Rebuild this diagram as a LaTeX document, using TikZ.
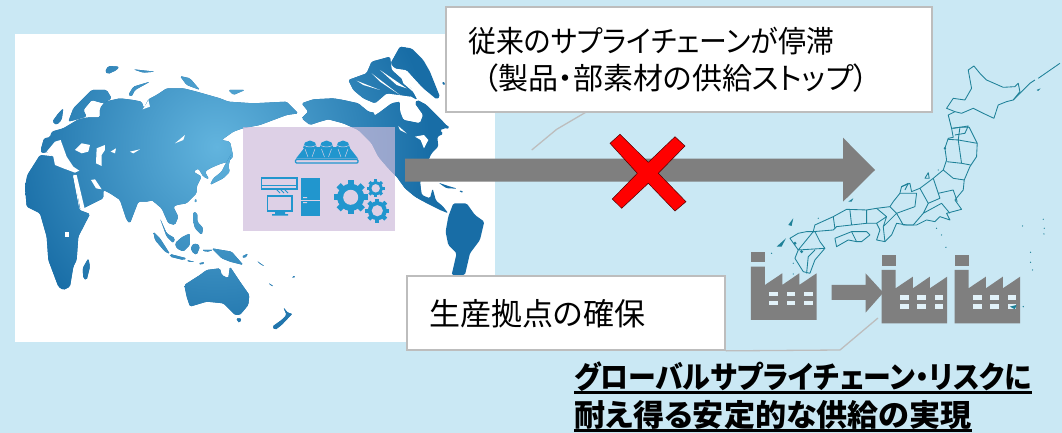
\documentclass[tikz,border=0pt]{standalone}
\usepackage{fontspec}
\setmainfont{Noto Sans CJK JP}[RawFeature=+palt]
\definecolor{sky}{HTML}{CAE8F4}
\definecolor{mapdark}{HTML}{186DA6}
\definecolor{maplight}{HTML}{62B4DE}
\definecolor{icon}{HTML}{2196CE}
\definecolor{facgray}{HTML}{7F7F7F}
\definecolor{boxline}{HTML}{BDBDBD}
\definecolor{panel}{HTML}{CEBBDB}
\definecolor{panelflat}{HTML}{DDD0E5}
\definecolor{jline}{HTML}{1E8198}
\newcommand{\thickul}[1]{\setbox0=\hbox{#1}\rlap{\rule[-6pt]{\wd0}{2.6pt}}\box0}
\newcommand{\landfill}[2]{\begin{scope}\clip[shift={#1},rounded corners=1.5pt] #2;
    \fill[mapdark] (-100,-100) rectangle (1600,1200);
    \shade[inner color=maplight,outer color=mapdark] (650,440) circle (640);\end{scope}}
\tikzset{
  callbox/.style={draw=boxline,line width=1.7pt,fill=white,inner sep=0},
  calltail/.style={draw=boxline,line width=1.3pt},
  jptext/.style={inner sep=0,anchor=west,text=black,font=\fontsize{30}{30}\selectfont},
  boldtext/.style={inner sep=0,anchor=base west,text=black,font=\fontsize{30.5}{30}\selectfont\bfseries},
  pref/.style={draw=jline,line width=0.85pt,line join=round},
  factorybody/.style={fill=facgray},
  win/.style={fill=sky!55!white},
  seas/.style={fill=white}
}
\begin{document}
\begin{tikzpicture}[x=1pt,y=-1pt]
\useasboundingbox (0,0) rectangle (1062,433);
\fill[sky] (0,0) rectangle (1062,433);
\fill[white] (15,34) rectangle (495,342);
% world map
\begin{scope}[x=0.3333pt,y=-0.3333pt]
  % Eurasia, Africa and neighbours
  \landfill{(60,180)}{(62,270)--(72,235)--(90,232)--(95,215)--(130,205)--(175,178)--(205,172)--(240,172)--(240,145)--(255,125)--(300,115)--(340,120)--(365,125)--(372,145)--(385,118)--(410,105)--(440,85)--(490,85)--(530,95)--(600,115)--(625,125)--(700,130)--(800,125)--(835,160)--(800,165)--(760,180)--(720,195)--(668,205)--(640,215)--(605,240)--(630,245)--(640,290)--(625,305)--(600,312)--(570,325)--(555,335)--(567,358)--(550,350)--(535,325)--(520,335)--(545,350)--(530,380)--(530,400)--(500,430)--(470,435)--(460,440)--(475,470)--(465,495)--(445,490)--(425,445)--(395,420)--(385,425)--(355,425)--(330,490)--(320,480)--(300,420)--(270,400)--(250,390)--(250,415)--(180,450)--(165,345)--(140,330)--(100,290)--(85,275)--(65,280)--cycle}
  \landfill{(60,180)}{(15,380)--(22,345)--(60,285)--(105,290)--(110,315)--(175,340)--(158,345)--(178,450)--(210,462)--(175,530)--(170,600)--(160,620)--(150,680)--(130,690)--(115,680)--(85,600)--(80,530)--(60,460)--(20,440)--cycle}
  \landfill{(60,180)}{(145,185)--(160,145)--(215,90)--(260,90)--(275,115)--(250,130)--(215,120)--(190,150)--(200,170)--(165,180)--cycle}
  \landfill{(60,180)}{(97,185)--(115,160)--(130,145)--(125,180)--(110,195)--cycle}
  \landfill{(60,180)}{(255,35)--(265,18)--(298,20)--(290,30)--(265,42)--cycle}
  \landfill{(60,180)}{(340,28)--(405,35)--(370,38)--cycle}
  \landfill{(60,180)}{(325,105)--(340,80)--(390,65)--(345,90)--(335,110)--cycle}
  \landfill{(60,180)}{(480,48)--(510,55)--(540,90)--(500,75)--cycle}
  \landfill{(60,180)}{(625,90)--(675,90)--(640,105)--cycle}
  \landfill{(60,180)}{(188,625)--(205,595)--(210,620)--(200,660)--(190,655)--cycle}
  % south-east Asia, Oceania, Japan
  \landfill{(450,450)}{(10,245)--(30,265)--(60,312)--(45,305)--(15,270)--cycle}
  \landfill{(450,450)}{(60,312)--(110,325)--(100,330)--(60,320)--cycle}
  \landfill{(450,450)}{(75,280)--(95,262)--(120,250)--(120,285)--(100,305)--(80,295)--cycle}
  \landfill{(450,450)}{(125,285)--(140,280)--(150,290)--(140,315)--(125,305)--cycle}
  \landfill{(450,450)}{(130,185)--(142,190)--(142,215)--(160,235)--(155,255)--(135,235)--(130,215)--cycle}
  \landfill{(450,450)}{(135,145)--(142,150)--(135,160)--cycle}
  \landfill{(450,450)}{(185,295)--(215,300)--(245,305)--(280,345)--(240,335)--(215,325)--cycle}
  \landfill{(450,450)}{(30,205)--(50,250)--(75,265)--(70,280)--(50,260)--cycle}
  \landfill{(450,450)}{(180,105)--(190,85)--(215,65)--(225,45)--(245,10)--(235,50)--(240,65)--(220,85)--(190,100)--cycle}
  \landfill{(450,450)}{(103,405)--(150,375)--(170,360)--(210,355)--(215,375)--(235,385)--(240,350)--(270,395)--(298,435)--(295,465)--(270,495)--(255,495)--(220,460)--(170,455)--(120,470)--(110,440)--cycle}
  \landfill{(450,450)}{(258,505)--(275,505)--(268,520)--cycle}
  \landfill{(450,450)}{(400,472)--(415,490)--(428,490)--(395,525)--(375,540)--(367,530)--(395,510)--(410,495)--cycle}
  \landfill{(450,450)}{(355,398)--(372,410)--(360,405)--cycle}
  \landfill{(450,450)}{(275,320)--(295,310)--(285,325)--cycle}
  \landfill{(450,450)}{(425,380)--(437,377)--(430,386)--cycle}
  \landfill{(450,450)}{(110,330)--(135,336)--(115,336)--cycle}
  \landfill{(450,450)}{(145,340)--(165,336)--(155,345)--cycle}
  \landfill{(450,450)}{(155,300)--(190,300)--(170,306)--cycle}
  \landfill{(450,450)}{(320,332)--(345,350)--(330,342)--cycle}
  % the Americas and Greenland
  \landfill{(900,120)}{(272,70)--(300,20)--(335,25)--(370,60)--(390,95)--(420,170)--(410,178)--(370,145)--(320,90)--(285,85)--cycle}
  \landfill{(900,120)}{(5,190)--(40,178)--(100,175)--(130,180)--(175,190)--(205,215)--(235,220)--(275,190)--(300,185)--(300,215)--(310,240)--(360,250)--(370,225)--(345,190)--(352,180)--(380,195)--(425,240)--(445,262)--(420,270)--(430,282)--(412,290)--(415,320)--(395,340)--(385,360)--(360,425)--(365,465)--(390,475)--(398,445)--(408,482)--(428,498)--(445,520)--(420,510)--(380,490)--(345,470)--(315,445)--(290,410)--(265,385)--(235,350)--(215,310)--(175,270)--(130,250)--(85,238)--(60,245)--(30,255)--(5,235)--(25,215)--cycle}
  \landfill{(900,120)}{(145,120)--(200,100)--(215,65)--(270,50)--(275,90)--(320,130)--(335,170)--(300,165)--(260,160)--(225,190)--(190,175)--(160,150)--cycle}
  \landfill{(900,120)}{(280,115)--(330,140)--(352,180)--(335,170)--(300,150)--cycle}
  \landfill{(900,120)}{(415,428)--(445,438)--(472,446)--(440,445)--cycle}
  \landfill{(900,120)}{(478,450)--(492,456)--(480,458)--cycle}
  \landfill{(900,120)}{(430,250)--(450,262)--(438,268)--cycle}
  \landfill{(900,120)}{(425,125)--(437,128)--(432,138)--cycle}
  \landfill{(900,120)}{(437,575)--(445,530)--(460,490)--(500,490)--(525,525)--(553,545)--(540,600)--(510,640)--(495,705)--(455,705)--(470,640)--(445,615)--cycle}
  % inland seas and bays
  \begin{scope}[shift={(60,180)}]
    \fill[seas] (100,290)--(80,275)--(105,245)--(122,240)--(140,290)--(160,320)--(178,332)--(165,338)--(130,325)--(105,315)--cycle;
    \fill[seas] (165,270)--(185,250)--(210,255)--(205,275)--(185,280)--cycle;
    \fill[seas] (230,265)--(255,255)--(255,270)--(245,285)--(245,318)--(228,310)--cycle;
    \fill[seas] (272,275)--(288,265)--(285,280)--cycle;
    \fill[seas] (330,275)--(360,268)--(340,280)--cycle;
    \fill[seas] (465,250)--(495,225)--(490,240)--cycle;
    \fill[seas] (213,360)--(225,358)--(245,388)--(228,385)--cycle;
    \fill[seas] (160,345)--(170,345)--(195,450)--(182,450)--cycle;
    \fill[seas] (385,120)--(390,140)--(368,148)--(380,130)--cycle;
    \fill[seas] (136,515)--(146,515)--(146,530)--(136,530)--cycle;
  \end{scope}
  \begin{scope}[shift={(900,120)}]
    \fill[seas] (345,290)--(372,285)--(385,300)--(372,325)--(362,300)--cycle;
    \fill[seas] (170,122)--(240,150)--(190,135)--cycle;
    \fill[seas] (215,100)--(300,165)--(240,125)--cycle;
    \fill[seas] (240,90)--(320,145)--(290,135)--cycle;
    \fill[seas] (300,100)--(345,160)--(310,130)--cycle;
    \fill[seas] (295,258)--(320,280)--(300,270)--cycle;
    \fill[seas] (215,205)--(240,215)--(225,225)--cycle;
  \end{scope}
\end{scope}
% product panel
\fill[panel,opacity=0.685] (243,127) rectangle (395,231);
\begin{scope}
  % conveyor with three hoppers
  \fill[icon] (296,158.5)--(305,147)--(349,147)--(358,158.5)--cycle;
  \foreach \cx in {310,326.5,343}{
    \fill[icon] (\cx,140.5)--(\cx+5,142.5)--(\cx+7,148)--(\cx-7,148)--(\cx-5,142.5)--cycle;
    \draw[panelflat,line width=0.5pt] (\cx-6,145.5) to[bend right=25] (\cx+6,145.5);
    \draw[panelflat,line width=0.5pt] (\cx-5,149)--(\cx-2,157) (\cx+5,149)--(\cx+2,157);
  }
  \draw[icon,line width=1.1pt,fill=panelflat,rounded corners=1pt] (295.5,159.5) rectangle (358,163);
  % air conditioner
  \draw[icon,line width=1.1pt] (261.3,178) rectangle (297,189);
  \fill[icon] (261.3,184.5) rectangle (297,186);
  \draw[icon,line width=0.8pt] (276,189)--(280,193) (280,189)--(284,193) (284,189)--(288,193);
  % monitor
  \draw[icon,line width=1.3pt] (267.5,196) rectangle (292,211);
  \fill[icon] (275,211) rectangle (285,214) (272,214) rectangle (288,215.5);
  % refrigerator
  \fill[icon] (301,177.5) rectangle (320,215.5);
  \fill[panelflat] (301,199.5) rectangle (320,200.2);
  \fill[panelflat] (303,197) rectangle (307,198) (303,202) rectangle (307,203);
  % gears
  \foreach \gx/\gy/\gr/\gi/\gs in {350.7/197.3/13.5/7.5/8, 375.7/188.3/7/4.2/8, 377.3/210.7/9.5/5.6/8}{
    \fill[icon] (\gx,\gy) circle (\gr);
    \foreach \a in {1,...,\gs}{\fill[icon,rotate around={360/\gs*\a:(\gx,\gy)}] (\gx-\gr*0.22,\gy-\gr*1.26) rectangle (\gx+\gr*0.22,\gy);}
    \fill[panelflat] (\gx,\gy) circle (\gi);
  }
\end{scope}
% factories and small arrow
\begin{scope}[x=0.3333pt,y=-0.3333pt,shift={(2160,150)}]
  \foreach \ox/\oy in {0/0,392/10,611/10}{
    \begin{scope}[shift={(\ox,\oy)}]
      \fill[factorybody] (93,605) rectangle (135,637);
      \fill[factorybody] (93,650)--(135,650)--(135,705)--(187,670)--(187,705)--(238,670)--(238,705)--(290,670)--(290,810)--(93,810)--cycle;
      \foreach \wx in {148,200,252}{\foreach \wy in {725,752}{\fill[win] (\wx,\wy) rectangle (\wx+26,\wy+14);}}
    \end{scope}
  }
  \fill[factorybody] (335,705)--(437,705)--(437,670)--(490,728)--(437,788)--(437,750)--(335,750)--cycle;
\end{scope}
% Japan
\begin{scope}[x=0.3333pt,y=-0.3333pt,shift={(2160,150)}]
  \draw[pref] (745,60)--(762,48)--(780,70)--(800,90)--(850,112)--(885,110)--(895,100)--(900,125)--(880,150)--(860,155)--(835,165)--(822,205)--(790,190)--(760,175)--(725,190)--(705,185)--(680,175)--(700,145)--(735,150)--(755,115)--cycle;
  \draw[pref] (705,185)--(685,195)--(695,235);
  \draw[pref] (695,235)--(700,262)--(685,265)--(675,295)--(680,330)--(670,360)--(640,385)--(600,415)--(575,425)--(570,400)--(545,410)--(540,430)--(520,455)--(510,470)--(470,475)--(440,480)--(380,478)--(340,500)--(285,525)--(280,545)--(340,540)--(350,530)--(440,520)--(470,520)--(480,540)--(470,570)--(495,575)--(515,555)--(530,520)--(560,525)--(590,525)--(620,510)--(645,515)--(660,500)--(690,510)--(680,490)--(725,478)--(705,450)--(730,420)--(733,390)--(750,350)--(770,320)--(772,280)--(748,232)--(720,232)--cycle;
  \draw[pref] (345,565)--(395,545)--(440,545)--(450,555)--(425,575)--(410,575)--(385,570)--(350,590)--cycle;
  \draw[pref] (235,550)--(210,565)--(235,600)--(225,625)--(250,665)--(270,670)--(285,630)--(315,595)--(300,575)--(285,545)--(260,545)--cycle;
  \draw[pref] (720,232)--(715,270)--(772,280) (685,268)--(715,270)--(725,340)--(680,335) (725,340)--(752,345) (670,360)--(700,385)--(733,390) (640,385)--(655,430)--(700,420)--(712,455) (600,415)--(625,460)--(660,445)--(655,430) (625,460)--(610,490)--(665,460)--(690,490) (540,430)--(590,430)--(585,470)--(530,490)--(510,470) (530,490)--(550,525)--(580,525)--(610,490) (470,475)--(500,500)--(490,530)--(495,575) (490,530)--(530,490) (500,500)--(470,520) (440,480)--(440,520) (390,480)--(395,525) (340,500)--(345,535) (395,545)--(410,575) (235,600)--(280,545) (235,600)--(315,595) (285,600)--(265,620)--(260,670);
  \draw[pref] (880,150)--(930,100)--(945,90) (955,85)--(1020,40) (615,385)--(625,368)--(628,385)--cycle (545,410)--(565,400)--(555,420) (700,235)--(745,228)--(735,250)--(705,255);
  \fill[jline] (205,525)--(220,505)--(215,528)--cycle (170,590)--(198,565)--(185,590)--cycle (385,455)--(400,445)--(395,455)--cycle (675,295) circle (4) (870,770)--(890,765)--(885,778)--cycle (950,120)--(962,115)--(955,123)--cycle (225,580) circle (5) (245,605) circle (5);
  \foreach \p in {(650,535),(665,555),(678,592),(970,508),(973,535),(972,552),(908,528),(932,607),(932,637),(938,660),(155,610),(910,770),(655,360),(295,505),(220,640),(220,672)}{\fill[jline] \p circle (2);}
\end{scope}
% big arrow
\fill[facgray] (405,158.7)--(843,158.7)--(843,137.7)--(875,170)--(843,201.7)--(843,181.7)--(405,181.7)--cycle;
% callouts
\coordinate (tailA) at (531.7,150);
\coordinate (tailAmid) at (556.7,129.3);
\coordinate (tailAroot) at (586.7,111.7);
\coordinate (tailB) at (878,318);
\coordinate (tailBmid) at (840,350);
\node[callbox,minimum width=485.7pt,minimum height=105pt] (boxA) at (688.9,59.2) {};
\node[callbox,minimum width=318pt,minimum height=74pt] (boxB) at (566,313) {};
\draw[calltail] (tailAroot)--(tailAmid)--(tailA);
\draw[calltail] (boxB.south east)--(tailBmid)--(tailB);
\node[jptext] (t1) at (468,41) {\scalebox{0.93}[1]{従来のサプライチェーンが停滞}};
\node[jptext] (t2) at (483,78) {（製品・部素材の供給ストップ）};
\node[jptext,font=\fontsize{31}{31}\selectfont] (t3) at (429,314) {生産拠点の確保};
% red cross
\fill[red,draw=black!70!red,line width=0.5pt] (610,143.3)--(620,134.3)--(648.3,162.3)--(675,136.7)--(685,146)--(658.3,173.3)--(686,201.7)--(675,211)--(648.3,183.3)--(621.7,208.3)--(612.3,199)--(637.3,173.3)--cycle;
\node[boldtext] (t4) at (574,388) {\scalebox{0.915}[1]{\thickul{グローバルサプライチェーン・リスクに}}};
\node[boldtext] (t5) at (574,426) {\scalebox{1.02}[1]{\thickul{耐え得る安定的な供給の実現}}};
\end{tikzpicture}
\end{document}
